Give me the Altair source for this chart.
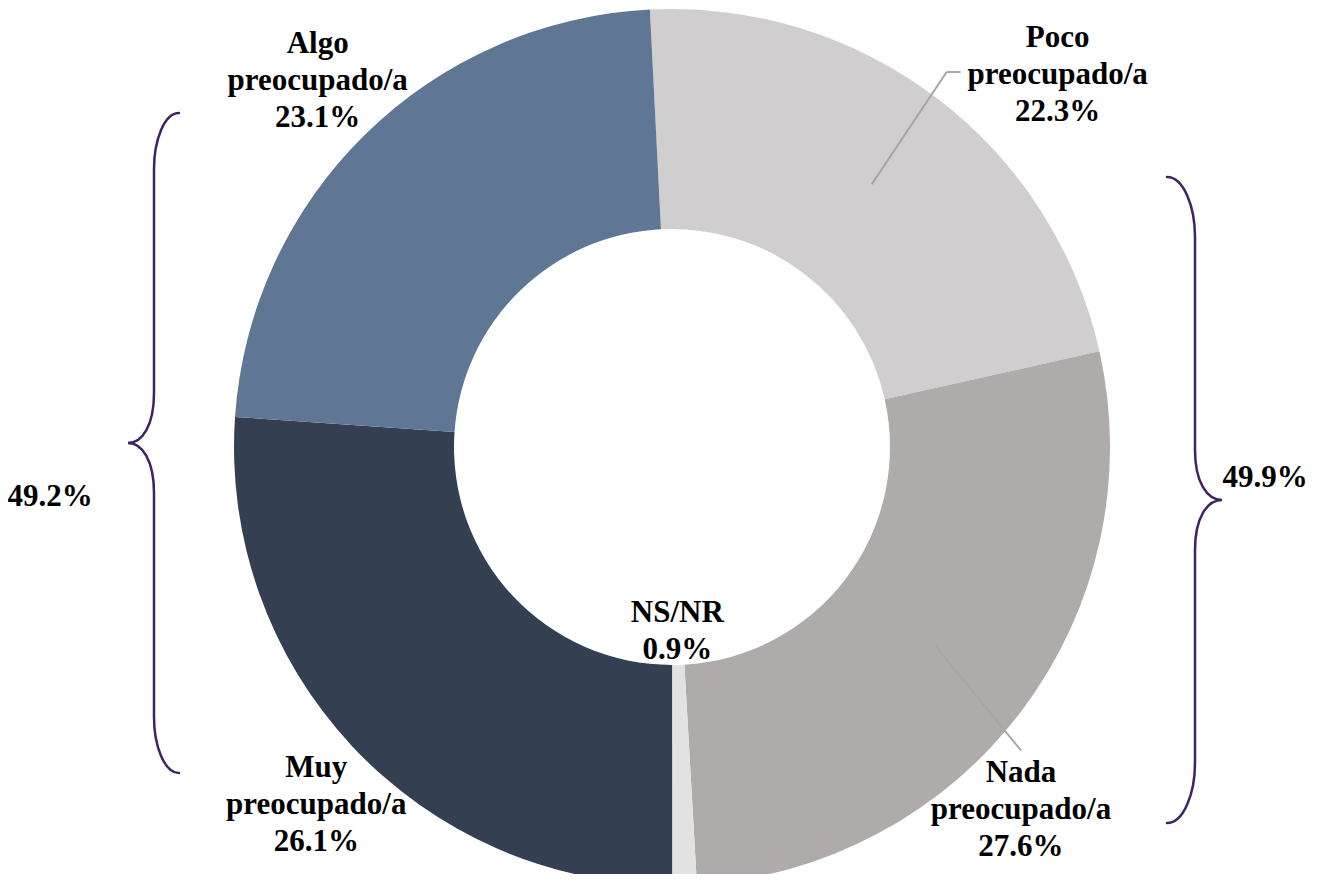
import math
import altair as alt
import pandas as pd

# ---------------- data ----------------
categories = ["Poco preocupado/a", "Nada preocupado/a", "NS/NR",
              "Muy preocupado/a", "Algo preocupado/a"]
values = [22.3, 27.6, 0.9, 26.1, 23.1]
colors = ["#D0CECF", "#AEABAA", "#E2E2E2", "#353F52", "#5F7794"]
brace_groups = [["Muy preocupado/a", "Algo preocupado/a"],
                ["Poco preocupado/a", "Nada preocupado/a"]]

# ---------------- layout / style ----------------
PAGE = 8
CX, CY = 672 - PAGE, 447 - PAGE
R_OUT, R_IN = 438, 218
START = math.radians(-2.9)
TOTAL = sum(values)
FONT = "Liberation Serif"
FS = 31
LH = 37
BRACE_COLOR = "#3E2461"
LEADER_COLOR = "#A6A6A6"

label_style = {
    "Poco preocupado/a": dict(radius=510, dx=77, dy=34),
    "Nada preocupado/a": dict(radius=510, dx=-58, dy=56),
    "NS/NR": dict(radius=185, dx=0, dy=0),
    "Muy preocupado/a": dict(radius=510, dx=17, dy=10),
    "Algo preocupado/a": dict(radius=510, dx=3, dy=-2),
}
# leader polylines: first point on slice centre ring, others relative to label centre
leader_style = {
    "Poco preocupado/a": [(-111, -3), (-97, -3)],
    "Nada preocupado/a": [(0, -60)],
}
LEADER_R = 330

brace_style = [
    dict(cx=154, cy=443, h=330, e=25, t=26, a=56, b=50, s=-1, tx=50, ty=497),
    dict(cx=1195, cy=500, h=323, e=28, t=27, a=60, b=50, s=1, tx=1265, ty=478),
]

# ---------------- table ----------------
labels = []
nlines = []
for c, v in zip(categories, values):
    first, _, rest = c.partition(" ")
    parts = [first] + ([rest] if rest else []) + [f"{v:.1f}%"]
    labels.append("\n".join(parts))
    nlines.append(len(parts))

df = pd.DataFrame({
    "cat": categories,
    "pct": values,
    "idx": list(range(len(categories))),
    "label": labels,
})

base = alt.Chart(df).transform_window(
    cum="sum(pct)", sort=[alt.SortField("idx", order="ascending")], frame=[None, 0]
).transform_calculate(
    mid=f"{START} + 2*PI*(datum.cum - datum.pct/2)/{TOTAL}"
)

arcs = alt.Chart(df).mark_arc(innerRadius=R_IN, outerRadius=R_OUT, stroke=None).encode(
    theta=alt.Theta("pct:Q", stack=True,
                    scale=alt.Scale(domain=[0, TOTAL], range=[START, START + 2 * math.pi])),
    color=alt.Color("cat:N", scale=alt.Scale(domain=categories, range=colors), legend=None),
    order=alt.Order("idx:Q"),
    x=alt.value(CX),
    y=alt.value(CY),
)

layers = [arcs]


def polar_x(r, off=0):
    return f"{CX} + {r}*sin(datum.mid) + {off}"


def polar_y(r, off=0):
    return f"{CY} - {r}*cos(datum.mid) + {off}"


for c, n in zip(categories, nlines):
    st = label_style[c]
    sub = base.transform_filter(alt.datum.cat == c)
    # leader lines
    if c in leader_style:
        pts = [(polar_x(LEADER_R), polar_y(LEADER_R))]
        for ox, oy in leader_style[c]:
            pts.append((polar_x(st["radius"], st["dx"] + ox),
                        polar_y(st["radius"], st["dy"] + oy)))
        for (xa, ya), (xb, yb) in zip(pts[:-1], pts[1:]):
            layers.append(
                sub.transform_calculate(xa=xa, ya=ya, xb=xb, yb=yb)
                .mark_rule(color=LEADER_COLOR, strokeWidth=2)
                .encode(x=alt.X("xa:Q", scale=None), y=alt.Y("ya:Q", scale=None),
                        x2="xb:Q", y2="yb:Q")
            )
    # Vega puts the first line at the anchor; centre the block on it
    shift = -(n - 1) * LH / 2
    layers.append(
        sub.mark_text(font=FONT, fontSize=FS, fontWeight="bold", lineBreak="\n",
                      lineHeight=LH, align="center", baseline="middle", color="black",
                      radius=st["radius"], dx=st["dx"], dy=st["dy"] + shift)
        .encode(theta=alt.Theta("mid:Q", scale=None), text="label:N",
                x=alt.value(CX), y=alt.value(CY))
    )


def brace_path(h, e, t, a, b, s):
    E = -s * e
    T = s * t
    p = (f"M {E} {-h} C {E*0.4} {-h} 0 {-h + a*0.5} 0 {-h + a} "
         f"L 0 {-b} C 0 {-b*0.35} {T*0.45} 0 {T} 0 "
         f"C {T*0.45} 0 0 {b*0.35} 0 {b} "
         f"L 0 {h - a} C 0 {h - a*0.5} {E*0.4} {h} {E} {h}")
    out = []
    for tok in p.split():
        try:
            out.append(f"{float(tok)/h:.5f}")
        except ValueError:
            out.append(tok)
    return " ".join(out)


totals = [sum(values[categories.index(c)] for c in g) for g in brace_groups]
brace_df = pd.DataFrame({"total": totals, "label": [f"{t:.1f}%" for t in totals],
                         "g": list(range(len(totals)))})

for i, bs in enumerate(brace_style):
    bsub = alt.Chart(brace_df).transform_filter(alt.datum.g == i)
    layers.append(
        bsub.mark_point(shape=brace_path(bs["h"], bs["e"], bs["t"], bs["a"], bs["b"], bs["s"]),
                        size=(2 * bs["h"]) ** 2, filled=False, stroke=BRACE_COLOR,
                        strokeWidth=2.5, opacity=1, strokeCap="round")
        .encode(x=alt.value(bs["cx"] - PAGE), y=alt.value(bs["cy"] - PAGE))
    )
    layers.append(
        bsub.mark_text(font=FONT, fontSize=FS, fontWeight="bold", align="center",
                       baseline="middle", color="black")
        .encode(text="label:N", x=alt.value(bs["tx"] - PAGE), y=alt.value(bs["ty"] - PAGE))
    )

chart = alt.layer(*layers).properties(
    width=1301, height=866, autosize=alt.AutoSizeParams(type="none"), padding=0
).configure_view(stroke=None)

chart.save("out.html", embed_options={"renderer": "svg", "actions": False})
